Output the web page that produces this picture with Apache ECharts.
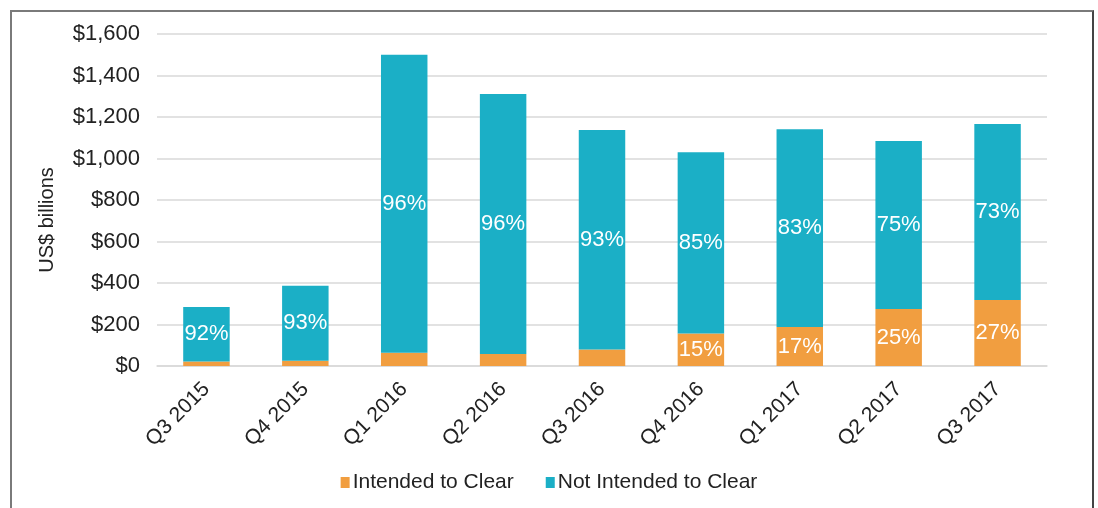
<!DOCTYPE html>
<html>
<head>
<meta charset="utf-8">
<script src="https://cdn.jsdelivr.net/npm/echarts@6/dist/echarts.min.js"></script>
<style>
  html, body { margin: 0; padding: 0; background: #fff; }
  #frame {
    position: absolute; left: 10px; top: 10px; width: 1080px; height: 510px;
    border-top: 2px solid #7a7a7a; border-left: 2px solid #7a7a7a; border-right: 2px solid #444;
  }
  #chart { position: absolute; left: 0; top: 0; width: 1098px; height: 508px; }
</style>
</head>
<body>
<div id="frame"></div>
<div id="chart"></div>
<script>
const quarters = ['Q3 2015', 'Q4 2015', 'Q1 2016', 'Q2 2016', 'Q3 2016', 'Q4 2016', 'Q1 2017', 'Q2 2017', 'Q3 2017'];
// US$ billions
const intendedToClear = [22, 25, 64, 58, 80, 157, 188, 275, 318];
const notIntendedToClear = [262, 362, 1436, 1253, 1057, 873, 953, 809, 848];
// share labels printed on the bars
const intendedLabels = ['', '', '', '', '', '15%', '17%', '25%', '27%'];
const notIntendedLabels = ['92%', '93%', '96%', '96%', '93%', '85%', '83%', '75%', '73%'];
const yTicks = [0, 200, 400, 600, 800, 1000, 1200, 1400, 1600];

const orange = '#f19e40';
const teal = '#1bafc6';
const fontFamily = '"Liberation Sans", Arial, sans-serif';

const chart = echarts.init(document.getElementById('chart'));

const labelStyle = (texts) => ({
  show: true,
  position: 'inside',
  color: '#fff',
  fontSize: 22,
  fontFamily: fontFamily,
  formatter: (p) => texts[p.dataIndex]
});

chart.setOption({
  animation: false,
  grid: {
    left: 157,
    right: 51,
    top: 34,
    bottom: 142
  },
  legend: {
    bottom: 10,
    left: 'center',
    itemWidth: 9,
    itemHeight: 11,
    itemGap: 32,
    icon: 'rect',
    textStyle: {
      color: '#222',
      fontSize: 21,
      fontFamily: fontFamily,
      padding: [0, 0, 0, -2]
    },
    data: ['Intended to Clear', 'Not Intended to Clear']
  },
  xAxis: {
    type: 'category',
    data: quarters,
    axisTick: { show: false },
    axisLine: { show: true, lineStyle: { color: '#d9d9d9', width: 1.5 } },
    axisLabel: {
      rotate: 45,
      margin: 20,
      color: '#222',
      fontSize: 21,
      fontFamily: fontFamily
    }
  },
  yAxis: {
    type: 'value',
    min: 0,
    max: 1600,
    interval: 200,
    name: 'US$ billions',
    nameLocation: 'middle',
    nameGap: 100,
    nameTextStyle: {
      color: '#222',
      fontSize: 20,
      fontFamily: fontFamily,
      padding: [0, 40, 0, 0]
    },
    axisLine: { show: false },
    axisTick: { show: false },
    splitLine: { lineStyle: { color: '#d9d9d9', width: 1.5 } },
    axisLabel: {
      margin: 17,
      color: '#222',
      fontSize: 22,
      fontFamily: fontFamily,
      formatter: (v) => yTicks.includes(v) ? '$' + v.toLocaleString('en-US') : ''
    }
  },
  series: [
    {
      name: 'Intended to Clear',
      type: 'bar',
      stack: 'total',
      barWidth: '47%',
      itemStyle: { color: orange },
      label: labelStyle(intendedLabels),
      data: intendedToClear
    },
    {
      name: 'Not Intended to Clear',
      type: 'bar',
      stack: 'total',
      barWidth: '47%',
      itemStyle: { color: teal },
      label: labelStyle(notIntendedLabels),
      data: notIntendedToClear
    }
  ]
});
</script>
</body>
</html>
